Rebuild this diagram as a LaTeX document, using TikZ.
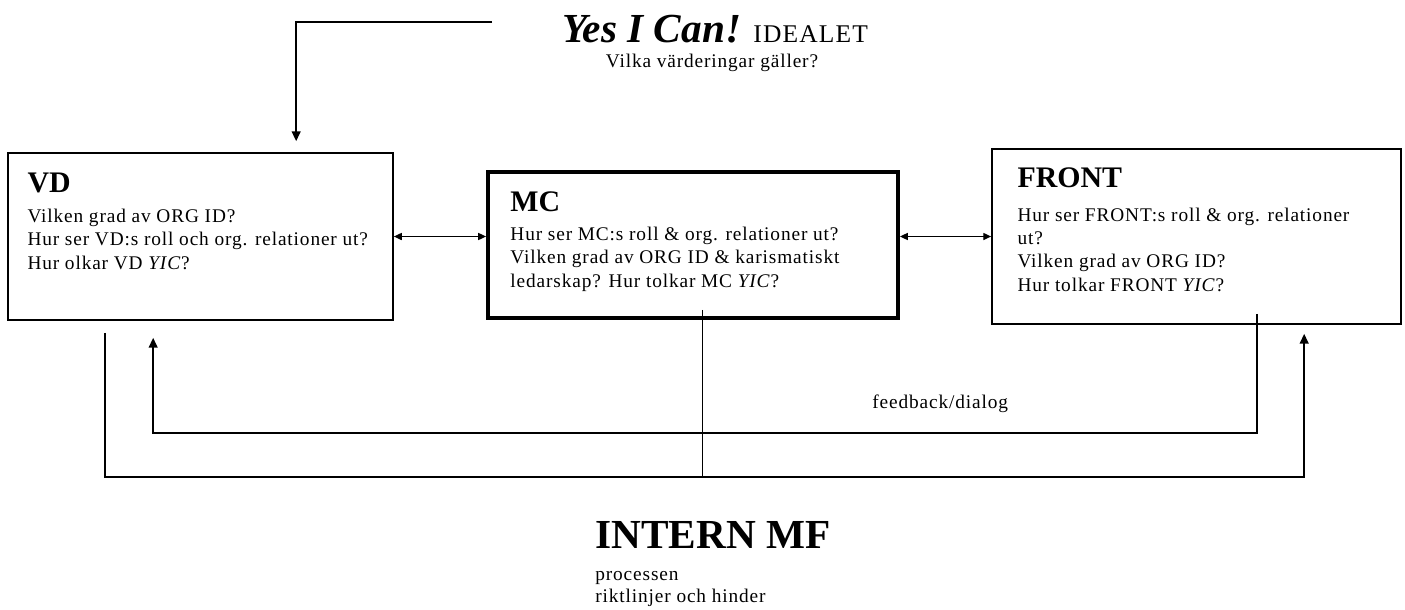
\documentclass[tikz,border=0pt]{standalone}
\usepackage{fontspec}
\setmainfont{Liberation Serif}
\newfontfamily\bodyfont[LetterSpace=4.5]{Liberation Serif}
\usetikzlibrary{arrows.meta,positioning}

\tikzset{
  qbox/.style={draw, line width=1pt, inner sep=0pt},
  boxtitle/.style={anchor=base west, inner sep=0pt, font=\fontsize{17}{20}\selectfont\bfseries},
  boxtext/.style={anchor=base west, inner sep=0pt, align=left, font=\bodyfont\fontsize{11}{13.3}\selectfont},
  wire/.style={line width=0.8pt},
  bigtip/.style={-{Triangle[length=5.5pt,width=5pt]}},
  twotip/.style={{Triangle[length=4.5pt,width=4pt]}-{Triangle[length=4.5pt,width=4pt]}}
}

\begin{document}
\begin{tikzpicture}[x=0.02cm,y=-0.02cm]
\useasboundingbox (0,0) rectangle (1405,609);

% The ideal on top
\node[anchor=base, inner sep=0pt] (ideal) at (715,42)
  {{\fontsize{23.5}{26}\selectfont\bfseries\itshape Yes I Can!}\hspace{7pt}{\bodyfont\fontsize{14.5}{16}\selectfont IDEALET}};
\node[boxtext, anchor=base] (values) at ([shift={(-3,25)}]ideal.base) {Vilka värderingar gäller?};

% Three boxes
\node[qbox, minimum width=7.7cm, minimum height=3.34cm] (vd) at (200.5,236.5) {};
\node[qbox, line width=2.2pt, minimum width=8.2cm, minimum height=2.92cm] (mc) at (693,245) {};
\node[qbox, minimum width=8.18cm, minimum height=3.5cm] (front) at (1196.5,236.5) {};

% Box texts (base = last line)
\node[boxtitle] (vdT) at ([shift={(20,40)}]vd.north west) {VD};
\node[boxtext] (vdB) at ([shift={(20,117)}]vd.north west)
  {Vilken grad av ORG ID?\\ Hur ser VD:s roll och org. relationer ut?\\ Hur olkar VD \textit{YIC}?};

\node[boxtitle] (mcT) at ([shift={(24,41)}]mc.north west) {MC};
\node[boxtext] (mcB) at ([shift={(24,117)}]mc.north west)
  {Hur ser MC:s roll \& org. relationer ut?\\ Vilken grad av ORG ID \& karismatiskt\\ ledarskap? Hur tolkar MC \textit{YIC}?};

\node[boxtitle] (frontT) at ([shift={(26,39)}]front.north west) {FRONT};
\node[boxtext] (frontB) at ([shift={(26,143)}]front.north west)
  {Hur ser FRONT:s roll \& org. relationer\\ ut?\\ Vilken grad av ORG ID?\\ Hur tolkar FRONT \textit{YIC}?};

% Ideal down to VD
\coordinate (idealstart) at (492,22);
\coordinate (vdtop) at ([shift={(289,-11)}]vd.north west);
\draw[wire,bigtip] (idealstart) -| (vdtop);

% Between the boxes
\draw[wire,twotip] (vd.east) -- (vd.east -| mc.west);
\draw[wire,twotip] (front.west -| mc.east) -- (front.west);

% Loops below
\coordinate (vdfoot) at ([shift={(98,12)}]vd.south west);
\coordinate (vdin) at ([shift={(146,17)}]vd.south west);
\coordinate (mcfoot) at ([shift={(216,-10)}]mc.south west);
\coordinate (frontfoot) at ([shift={(266,-11)}]front.south west);
\coordinate (frontin) at ([shift={(313,9)}]front.south west);
\coordinate (inner) at (0,433);
\coordinate (outer) at (0,477);

\draw[wire,bigtip] (frontfoot) |- (inner -| vdin) -- (vdin);
\draw[wire,bigtip] (vdfoot) |- (outer -| frontin) -- (frontin);
\draw[line width=0.6pt] (mcfoot) -- (mcfoot |- outer);

\node[boxtext] (fb) at (872,408) {feedback/dialog};

% Bottom heading
\node[anchor=base west, inner sep=0pt, font=\fontsize{23.5}{26}\selectfont\bfseries] (intern) at (595,548) {INTERN MF};
\node[boxtext, font=\bodyfont\fontsize{11}{12.5}\selectfont] (internB) at ([shift={(0,54)}]intern.base west)
  {processen\\ riktlinjer och hinder};

\end{tikzpicture}
\end{document}
